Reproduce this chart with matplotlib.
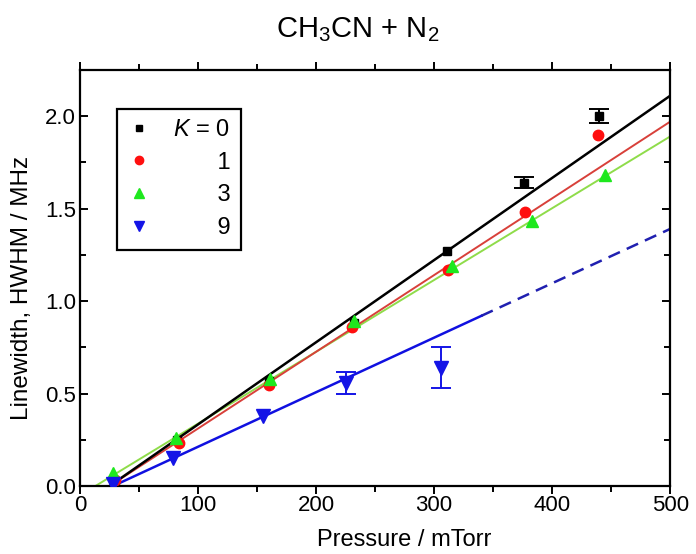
import matplotlib.pyplot as plt
from matplotlib.lines import Line2D
from matplotlib.ticker import MultipleLocator

plt.rcParams['font.family'] = ['Liberation Sans', 'DejaVu Sans']
plt.rcParams['mathtext.fontset'] = 'custom'
plt.rcParams['mathtext.rm'] = 'Liberation Sans'
plt.rcParams['mathtext.it'] = 'Liberation Sans:italic'

# K = 0
k0_p = [30, 82, 160, 232, 311, 376, 440]
k0_w = [0.02, 0.25, 0.57, 0.88, 1.27, 1.64, 2.00]
k0_err = [0, 0, 0, 0, 0, 0.03, 0.04]
# K = 1
k1_p = [30, 84, 160, 230, 312, 377, 439]
k1_w = [0.03, 0.23, 0.545, 0.86, 1.17, 1.48, 1.90]
# K = 3
k3_p = [28, 81, 161, 232, 315, 383, 445]
k3_w = [0.07, 0.26, 0.58, 0.89, 1.19, 1.43, 1.68]
# K = 9
k9_p = [28, 79, 155, 225, 306]
k9_w = [0.01, 0.15, 0.378, 0.555, 0.64]
k9_err = [0, 0, 0, 0.06, 0.11]

# fitted lines (end points)
fit0_x, fit0_y = [25, 500], [0.0, 2.11]
fit1_x, fit1_y = [25, 500], [0.0, 1.97]
fit3_x, fit3_y = [13, 500], [0.0, 1.89]
fit9_x, fit9_y = [28, 340], [0.0, 0.92]
fit9d_x, fit9d_y = [340, 500], [0.92, 1.39]

legend_labels = ['$K$ = 0', '      \u20091', '      \u20093', '      \u20099']

fig = plt.figure(figsize=(6.96, 5.54), dpi=100)
ax = fig.add_axes([0.115, 0.1227, 0.848, 0.7513])

ax.plot(fit3_x, fit3_y, color='#8fdc4a', lw=1.4, zorder=2)
ax.plot(fit1_x, fit1_y, color='#d8403a', lw=1.4, zorder=2)
ax.plot(fit0_x, fit0_y, color='black', lw=1.8, zorder=2)
ax.plot(fit9_x, fit9_y, color='#1010e0', lw=1.8, zorder=2)
ax.plot(fit9d_x, fit9d_y, color='#2020b0', lw=1.8, ls=(0, (5, 3)), zorder=2)

ax.plot(k0_p, k0_w, 's', color='black', ms=6, zorder=4)
ax.plot(k1_p, k1_w, 'o', color='#ff0f0f', ms=7.5, zorder=5)
ax.plot(k3_p, k3_w, '^', color='#1ee81e', ms=9, zorder=5)
ax.plot(k9_p, k9_w, 'v', color='#1414e6', ms=9.5, zorder=5)

e0 = [i for i, e in enumerate(k0_err) if e > 0]
ax.errorbar([k0_p[i] for i in e0], [k0_w[i] for i in e0], yerr=[k0_err[i] for i in e0],
            fmt='none', ecolor='black', capsize=7, elinewidth=1.4, capthick=1.4, zorder=4)
e9 = [i for i, e in enumerate(k9_err) if e > 0]
ax.errorbar([k9_p[i] for i in e9], [k9_w[i] for i in e9], yerr=[k9_err[i] for i in e9],
            fmt='none', ecolor='#1414e6', capsize=7, elinewidth=1.4, capthick=1.4, zorder=4)

ax.set_xlim(0, 500)
ax.set_ylim(0, 2.25)
ax.xaxis.set_major_locator(MultipleLocator(100))
ax.xaxis.set_minor_locator(MultipleLocator(50))
ax.yaxis.set_major_locator(MultipleLocator(0.5))
ax.yaxis.set_minor_locator(MultipleLocator(0.25))
ax.yaxis.set_major_formatter(plt.FormatStrFormatter('%.1f'))
ax.tick_params(which='both', direction='in', top=True, right=True, labelsize=16, width=1.4)
ax.tick_params(axis='x', which='both', direction='out', pad=0.5)
ax.tick_params(axis='y', which='both', pad=3)
ax.tick_params(which='major', length=6)
ax.tick_params(which='minor', length=4)
for s in ax.spines.values():
    s.set_linewidth(1.6)

fig.text(404 / 696, 1 - 540 / 554, 'Pressure / mTorr', fontsize=17, ha='center', va='center')
fig.text(22 / 696, 1 - 288 / 554, 'Linewidth, HWHM / MHz', fontsize=17.5, rotation=90,
         ha='center', va='center')
fig.text(358 / 696, 1 - 30 / 554, 'CH$_3$CN + N$_2$', fontsize=21, ha='center', va='center')

handles = [
    Line2D([], [], ls='none', marker='s', color='black', ms=5),
    Line2D([], [], ls='none', marker='o', color='#ff0f0f', ms=6),
    Line2D([], [], ls='none', marker='^', color='#1ee81e', ms=7),
    Line2D([], [], ls='none', marker='v', color='#1414e6', ms=7),
]
leg = ax.legend(handles, legend_labels, loc='upper left', bbox_to_anchor=(0.0627, 0.907),
                fontsize=17, frameon=True, fancybox=False, edgecolor='black',
                framealpha=1, handlelength=1.0, handletextpad=0.9, borderpad=0.45,
                labelspacing=0.45, borderaxespad=0)
leg.get_frame().set_linewidth(1.6)

fig.savefig('out.png', dpi=100)
